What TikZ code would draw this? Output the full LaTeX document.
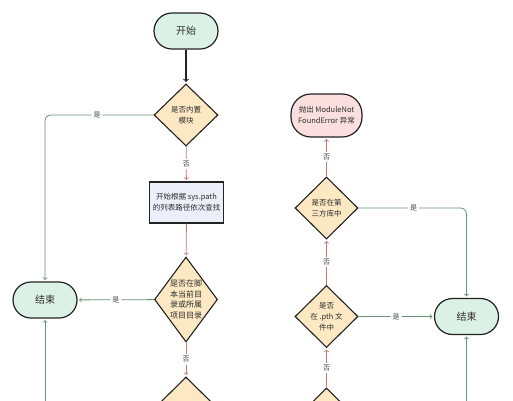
\documentclass[tikz,border=0pt]{standalone}
\usepackage{fontspec}
\setmainfont{Noto Sans CJK SC}
\usetikzlibrary{shapes.geometric}
\usetikzlibrary{arrows}

\definecolor{edge}{RGB}{34,34,34}
\definecolor{yesgreen}{RGB}{104,146,118}
\definecolor{nored}{RGB}{198,122,112}
\definecolor{termfill}{RGB}{220,241,229}
\definecolor{decfill}{RGB}{252,233,196}
\definecolor{procfill}{RGB}{236,239,250}
\definecolor{errfill}{RGB}{251,223,223}
\definecolor{nodetext}{RGB}{45,45,45}
\definecolor{lbltext}{RGB}{70,70,70}

\tikzset{
  term/.style={draw=edge, line width=1.2pt, fill=termfill, rounded corners=18pt,
    text=nodetext, align=center, minimum width=64pt, minimum height=36pt,
    font=\fontsize{10}{12}\selectfont},
  dec/.style={diamond, draw=edge, line width=1.1pt, fill=decfill, inner sep=-4pt,
    text=nodetext, align=center, minimum width=63pt, minimum height=62pt,
    font=\fontsize{7.5}{11}\selectfont},
  proc/.style={rectangle, draw=edge, line width=1.1pt, fill=procfill, align=center,
    text=nodetext, minimum width=71pt, minimum height=41pt,
    font=\fontsize{7.5}{11}\selectfont},
  yes/.style={draw=yesgreen, line width=0.8pt, ->, shorten >=1.5pt, rounded corners=6pt},
  no/.style={draw=nored, line width=0.8pt, ->, shorten >=1.5pt},
  lbl/.style={fill=white, text=lbltext, inner sep=2pt, font=\fontsize{7}{8}\selectfont},
}

\begin{document}
\begin{tikzpicture}[x=1pt,y=-1pt]
  \useasboundingbox (0,0) rectangle (513,400);
  \fill[white] (0,0) rectangle (513,400);
  \clip (0,0) rectangle (513,400);
  % left column
  \node[term] (start) at (186,31) {开始};
  \node[dec, minimum width=64pt] (q1) at (186,115) {是否内置\\模块};
  \node[proc] (path) at (186.5,202.5) {开始根据 sys.path\\的列表路径依次查找};
  \node[dec, minimum height=85pt, font=\fontsize{8}{10.5}\selectfont] (q2) at (186,299.5)
    {是否在脚\\本当前目\\录或所属\\项目目录};
  \node[term] (endL) at (45,300) {结束};
  \node[dec] (q3) at (186,408) {};
  \coordinate (inL) at (45,412);
  % right column
  \node[term, fill=errfill, minimum width=71pt, minimum height=43pt, rounded corners=20pt,
    font=\fontsize{7.5}{11}\selectfont] (err) at (326.5,115.5) {抛出 ModuleNot\\FoundError 异常};
  \node[dec] (q4) at (326.5,208) {是否在第\\三方库中};
  \node[dec] (q5) at (326.5,316.5) {是否\\在 .pth 文\\件中};
  \node[term] (endR) at (466.5,316.5) {结束};
  \node[dec] (q6) at (326.5,419) {};
  \coordinate (inR) at (466.5,412);

  \draw[->, draw=edge, line width=1.1pt, shorten >=1.5pt] (start) -- (q1);
  \draw[yes] (q1.west) -| node[lbl, pos=0.26] {是} (endL.north);
  \draw[no] (q1) -- node[lbl] {否} (path);
  \draw[no] (path) -- (q2);
  \draw[yes] (q2) -- node[lbl] {是} (endL);
  \draw[no] (q2) -- node[lbl] {否} (q3);
  \draw[yes] (inL) -- (endL);
  \draw[no] (q6) -- node[lbl] {否} (q5);
  \draw[no] (q5) -- node[lbl] {否} (q4);
  \draw[no] (q4) -- node[lbl] {否} (err);
  \draw[yes] (q5) -- node[lbl] {是} (endR);
  \draw[yes] (q4.east) -| node[lbl, pos=0.255] {是} (endR.north);
  \draw[yes] (inR) -- (endR);
\end{tikzpicture}
\end{document}
